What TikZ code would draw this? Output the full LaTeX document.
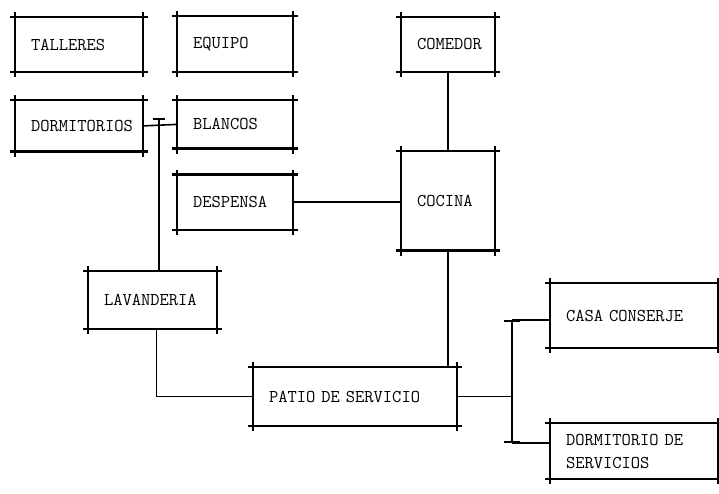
\documentclass[tikz,border=0pt]{standalone}
\usepackage{fontspec}
\usetikzlibrary{arrows.meta,positioning}

\begin{document}
\begin{tikzpicture}[
  x=1pt, y=-1pt,
  font=\ttfamily\fontsize{18}{23}\selectfont,
  sala/.style={inner xsep=16pt, inner ysep=0pt, align=left, text width=#1},
  marco/.style={line width=2.4pt, shorten <=-5pt, shorten >=-5pt},
  liga/.style={line width=1.6pt},
  remate/.style={liga, {Bar[width=16pt]}-{Bar[width=16pt]}}
]
\useasboundingbox (0,0) rectangle (719,494);

% upper row
\node[sala=96pt, minimum height=55pt] (talleres) at (79,44.5) {TALLERES};
\node[sala=84pt, minimum height=56pt] (equipo) at (235,44) {EQUIPO};
\node[sala=62pt, minimum height=55pt] (comedor) at (448,44.5) {COMEDOR};

\node[sala=96pt, minimum height=51pt, below=28pt of talleres] (dormitorios) {DORMITORIOS};
\node[sala=84pt, minimum height=48pt, below=28pt of equipo] (blancos) {BLANCOS};
\node[sala=84pt, minimum height=55pt, below=26pt of blancos] (despensa) {DESPENSA};
\node[sala=62pt, minimum height=99pt, below=79pt of comedor] (cocina) {COCINA};

% lower part
\node[sala=97pt, minimum height=58pt] (lavanderia) at (152.5,300) {LAVANDERIA};
\node[sala=172pt, minimum height=59pt] (patio) at (355,396.5) {PATIO DE SERVICIO};
\node[sala=136pt, minimum height=65pt] (casa) at (634,315.5) {CASA CONSERJE};
\node[sala=136pt, minimum height=56pt] (dormserv) at (634,451) {DORMITORIO DE\\SERVICIOS};

% box outlines with crossing corners
\foreach \n in {talleres,equipo,comedor,dormitorios,blancos,despensa,cocina,lavanderia,patio,casa,dormserv} {
  \draw[marco] (\n.north west) -- (\n.north east);
  \draw[marco] (\n.south west) -- (\n.south east);
  \draw[marco] (\n.north west) -- (\n.south west);
  \draw[marco] (\n.north east) -- (\n.south east);
}

% links
\coordinate (nudo) at (159,118);
\coordinate (ramaA) at (512,320);
\coordinate (ramaB) at (512,443);

\draw[liga] (dormitorios.east) -- (blancos.west);
\draw[liga, {Bar[width=12pt]}-] (nudo) -- (nudo |- lavanderia.north);
\draw[liga] (despensa.east) -- (despensa.east -| cocina.west);
\draw[liga] (comedor.south) -- (comedor.south |- cocina.north);
\draw[liga] (cocina.south) -- (cocina.south |- patio.north);
\draw[liga] ([xshift=4pt]lavanderia.south) |- (patio.west);
\draw[liga] (patio.east) -- (patio.east -| ramaA);
\draw[remate] (ramaA) -- (ramaB);
\draw[liga] (ramaA) -- (ramaA -| casa.west);
\draw[liga] (ramaB) -- (ramaB -| dormserv.west);

\end{tikzpicture}
\end{document}
